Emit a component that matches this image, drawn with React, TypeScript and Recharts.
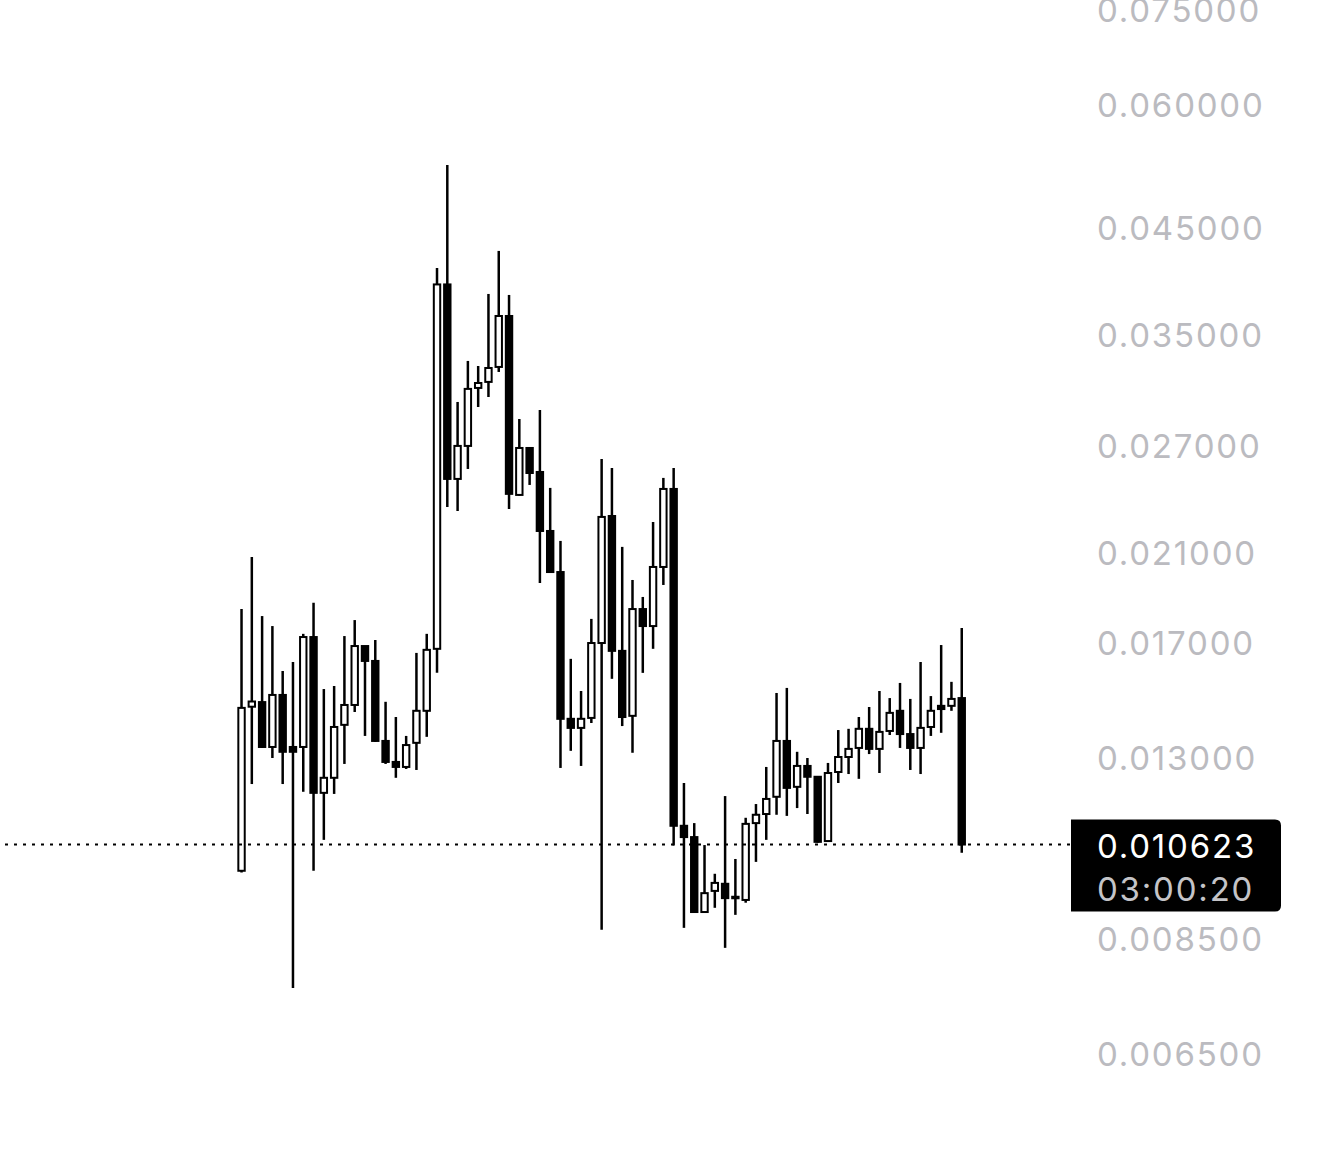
import { Bar, ComposedChart, ReferenceLine, XAxis, YAxis } from "recharts";

// candles, oldest first
const opens = [
    0.00999, 0.01467, 0.01483, 0.01335, 0.01508, 0.01335, 0.01335, 0.01727, 0.01199, 0.01242,
    0.01406, 0.01473, 0.01691, 0.01633, 0.01354, 0.01289, 0.01274, 0.01348, 0.01453, 0.0168,
    0.03944, 0.02501, 0.02702, 0.03095, 0.03139, 0.03251, 0.03663, 0.02409, 0.02689, 0.02542,
    0.02214, 0.02011, 0.01426, 0.01396, 0.01429, 0.01703, 0.02293, 0.01672, 0.01436, 0.01844,
    0.01772, 0.02035, 0.02443, 0.0111, 0.01081, 0.00907, 0.00953, 0.00969, 0.00937, 0.00933,
    0.01117, 0.01141, 0.01188, 0.01354, 0.01216, 0.01277, 0.01245, 0.01071, 0.01259, 0.01304,
    0.01332, 0.01393, 0.01329, 0.01386, 0.01453, 0.01376, 0.01332, 0.01399, 0.0147, 0.0147,
    0.01497,
];
const highs = [
    0.01844, 0.02083, 0.01814, 0.01772, 0.01595, 0.01629, 0.0174, 0.01871, 0.01529, 0.0154,
    0.01731, 0.01797, 0.01691, 0.01715, 0.01484, 0.01432, 0.0137, 0.01664, 0.0174, 0.04099,
    0.05217, 0.02995, 0.03297, 0.03258, 0.03857, 0.04266, 0.03848, 0.02878, 0.02689, 0.02939,
    0.02449, 0.02163, 0.01641, 0.01522, 0.01802, 0.02621, 0.02566, 0.02133, 0.01974, 0.01897,
    0.02261, 0.02507, 0.02566, 0.01227, 0.01117, 0.01061, 0.00992, 0.0119, 0.01027, 0.01131,
    0.01168, 0.01274, 0.01515, 0.01533, 0.0132, 0.01301, 0.01245, 0.01286, 0.01389, 0.01393,
    0.01432, 0.01466, 0.01522, 0.01497, 0.01551, 0.01494, 0.01629, 0.01504, 0.01695, 0.01555,
    0.01764,
];
const lows = [
    0.00995, 0.01224, 0.01332, 0.01301, 0.01224, 0.00759, 0.01202, 0.00999, 0.01074, 0.01196,
    0.01283, 0.01449, 0.0137, 0.01351, 0.01283, 0.01242, 0.01268, 0.01265, 0.01367, 0.01588,
    0.02342, 0.0232, 0.0256, 0.0296, 0.0303, 0.03213, 0.02331, 0.02405, 0.02466, 0.0196,
    0.02007, 0.01271, 0.01323, 0.01277, 0.01412, 0.0087, 0.01566, 0.01402, 0.01317, 0.01588,
    0.0168, 0.01951, 0.0106, 0.00874, 0.00905, 0.00905, 0.00916, 0.00834, 0.00901, 0.00927,
    0.0102, 0.01074, 0.01139, 0.01136, 0.01157, 0.01141, 0.01067, 0.0107, 0.01227, 0.01253,
    0.01239, 0.01313, 0.01256, 0.01373, 0.01332, 0.01265, 0.01253, 0.0137, 0.0138, 0.01453,
    0.01042,
];
const closes = [
    0.01463, 0.01485, 0.01335, 0.01508, 0.0132, 0.0132, 0.01727, 0.01199, 0.01242, 0.01399,
    0.01473, 0.01691, 0.01633, 0.01354, 0.01289, 0.01274, 0.01341, 0.01453, 0.01676, 0.03944,
    0.02501, 0.02702, 0.03088, 0.03131, 0.03243, 0.03663, 0.02415, 0.02689, 0.02536, 0.02214,
    0.02011, 0.01426, 0.01396, 0.01426, 0.01703, 0.02288, 0.01672, 0.01432, 0.01844, 0.01772,
    0.02035, 0.02443, 0.0111, 0.01081, 0.00907, 0.00948, 0.00971, 0.00937, 0.0094, 0.01115,
    0.01139, 0.01182, 0.01354, 0.01213, 0.01277, 0.01245, 0.01069, 0.01256, 0.01304, 0.01329,
    0.01393, 0.01329, 0.01383, 0.01446, 0.01376, 0.01332, 0.01396, 0.01453, 0.01459, 0.01494,
    0.010623,
];

const priceTicks = [0.075, 0.06, 0.045, 0.035, 0.027, 0.021, 0.017, 0.013, 0.0085, 0.0065];
const lastPrice = 0.010623;
const countdown = "03:00:20";

const data = opens.map((open, i) => ({
    i,
    open,
    high: highs[i],
    low: lows[i],
    close: closes[i],
}));

const font = "Inter, 'Helvetica Neue', Arial, sans-serif";
const xPad = { left: 236.5, right: 103 };

function Wick(props: any) {
    const { x, y, width, height } = props;
    const cx = x + width / 2;
    return <line x1={cx} x2={cx} y1={y} y2={y + height} stroke="#000" strokeWidth={2.5} />;
}

function Body(props: any) {
    const { x, y, width, height, payload } = props;
    const cx = x + width / 2;
    const h = Math.max(height, 1.5);
    if (payload.close >= payload.open) {
        return <rect x={cx - 3.2} y={y} width={6.4} height={h} fill="#fff" stroke="#000" strokeWidth={2} />;
    }
    return <rect x={cx - 4.2} y={y - 1} width={8.4} height={h + 2} fill="#000" />;
}

function PriceTag(props: any) {
    const { viewBox } = props;
    const left = viewBox.x + viewBox.width + 1;
    const top = viewBox.y - 25;
    const w = 210;
    const h = 92;
    const r = 6;
    return (
        <g>
            <path
                d={`M${left},${top} H${left + w - r} Q${left + w},${top} ${left + w},${top + r} V${top + h - r} Q${left + w},${top + h} ${left + w - r},${top + h} H${left} Z`}
                fill="#000"
            />
            <text x={left + 26} y={top + 38} fill="#fff" fontSize={33} letterSpacing={1.8} fontFamily={font}>
                {lastPrice.toFixed(6)}
            </text>
            <text x={left + 26} y={top + 81} fill="#c4c4c8" fontSize={33} letterSpacing={1.8} fontFamily={font}>
                {countdown}
            </text>
        </g>
    );
}

export default function App() {
    return (
        <div style={{ position: "absolute", left: 0, top: 0, width: 1320, height: 1150, background: "#fff" }}>
            <ComposedChart width={1320} height={1150} data={data} margin={{ top: 0, right: 0, bottom: 0, left: 0 }}>
                <XAxis xAxisId="wick" dataKey="i" hide padding={xPad} />
                <XAxis xAxisId="body" dataKey="i" hide padding={xPad} />
                <YAxis
                    orientation="right"
                    width={250}
                    scale="log"
                    domain={[0.0051947, 0.076777]}
                    allowDataOverflow
                    ticks={priceTicks}
                    interval={0}
                    tickLine={false}
                    axisLine={false}
                    tickSize={0}
                    tickMargin={27}
                    tick={{ fill: "#bbbbc0", fontSize: 33, fontFamily: font, letterSpacing: 1.8 }}
                    tickFormatter={(v) => Number(v).toFixed(6)}
                />
                <ReferenceLine
                    xAxisId="wick"
                    y={lastPrice}
                    stroke="#000"
                    strokeWidth={2}
                    strokeDasharray="3 6"
                    label={<PriceTag />}
                />
                <Bar
                    xAxisId="wick"
                    dataKey={(d: any) => [d.low, d.high]}
                    shape={<Wick />}
                    isAnimationActive={false}
                />
                <Bar
                    xAxisId="body"
                    dataKey={(d: any) => [Math.min(d.open, d.close), Math.max(d.open, d.close)]}
                    shape={<Body />}
                    isAnimationActive={false}
                />
            </ComposedChart>
        </div>
    );
}
